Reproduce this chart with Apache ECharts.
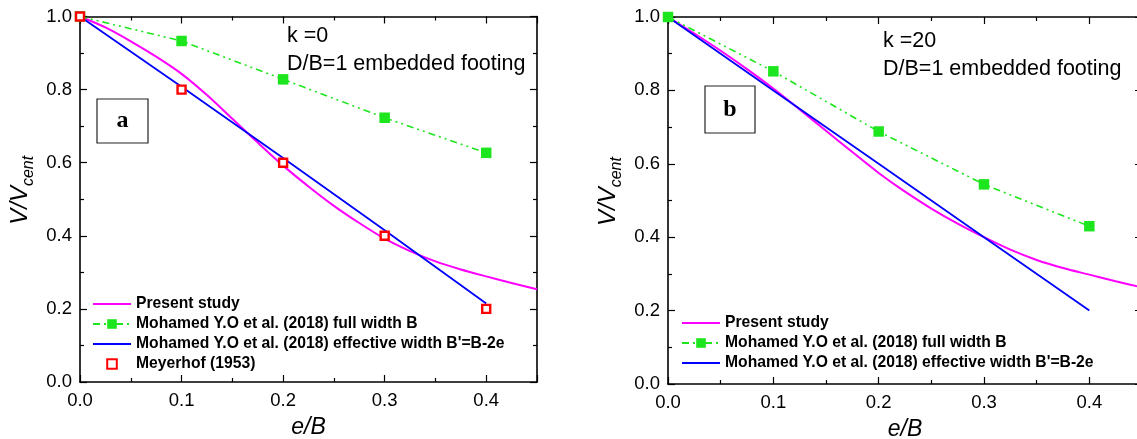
<!DOCTYPE html>
<html>
<head>
<meta charset="utf-8">
<script src="https://cdn.jsdelivr.net/npm/echarts@6/dist/echarts.min.js"></script>
<style>
html,body{margin:0;padding:0;background:#fff;}
#chart{width:1137px;height:439px;}
</style>
</head>
<body>
<div id="chart"></div>
<script>
// ---- data ----
const eB = [0, 0.1, 0.2, 0.3, 0.4];
const curveX = [0, 0.025, 0.05, 0.075, 0.1, 0.125, 0.15, 0.175, 0.2, 0.225, 0.25, 0.275, 0.3, 0.325, 0.35, 0.375, 0.4, 0.425, 0.45];
const presentA = [1, 0.97, 0.932, 0.89, 0.843, 0.785, 0.72, 0.655, 0.592, 0.535, 0.482, 0.435, 0.392, 0.358, 0.33, 0.308, 0.289, 0.271, 0.254];
const presentB = [1, 0.955, 0.908, 0.858, 0.805, 0.748, 0.69, 0.632, 0.575, 0.524, 0.478, 0.437, 0.4, 0.366, 0.338, 0.316, 0.298, 0.28, 0.263];
const fullWidthA = [1, 0.933, 0.828, 0.723, 0.627];
const fullWidthB = [1, 0.852, 0.688, 0.544, 0.43];
const effWidthA = [1, 0.808, 0.613, 0.415, 0.215];
const effWidthB = [1, 0.8, 0.6, 0.4, 0.2];
const meyerhofA = [1, 0.8, 0.6, 0.4, 0.2];
const xTicks = ['0.0', '0.1', '0.2', '0.3', '0.4'];
const yTicks = ['0.0', '0.2', '0.4', '0.6', '0.8', '1.0'];

const N1 = 'Present study';
const N2 = 'Mohamed Y.O et al. (2018) full width B';
const N3 = "Mohamed Y.O et al. (2018) effective width B'=B-2e";
const N4 = 'Meyerhof (1953)';

const FONT = 'Liberation Sans, Arial, sans-serif';
const pairs = (xs, ys) => xs.map((x, i) => [x, ys[i]]);

function xAx(grid, pos) {
  const main = pos === 'bottom';
  return {
    gridIndex: grid, type: 'value', position: pos, min: 0, max: 0.45, interval: 0.1,
    axisLine: {onZero: false, lineStyle: {color: '#000', width: 1.6}},
    axisTick: {inside: true, length: 7, lineStyle: {color: '#000', width: 1.2}},
    minorTick: {show: true, splitNumber: 2, length: 4, lineStyle: {color: '#000', width: 1.2}},
    splitLine: {show: false}, minorSplitLine: {show: false},
    axisLabel: {show: main, fontSize: 18.5, fontFamily: FONT, color: '#000', margin: 9,
      formatter: v => { const i = Math.round(v * 10); return (Math.abs(v * 10 - i) < 1e-6 && i < xTicks.length) ? xTicks[i] : ''; }},
    name: main ? 'e/B' : '', nameLocation: 'middle', nameGap: 34,
    nameTextStyle: {fontSize: 23, fontStyle: 'italic', fontFamily: FONT, color: '#000'}
  };
}
function yAx(grid, pos) {
  const main = pos === 'left';
  return {
    gridIndex: grid, type: 'value', position: pos, min: 0, max: 1, interval: 0.2,
    axisLine: {onZero: false, lineStyle: {color: '#000', width: 1.6}},
    axisTick: {inside: true, length: 7, lineStyle: {color: '#000', width: 1.2}},
    minorTick: {show: true, splitNumber: 2, length: 4, lineStyle: {color: '#000', width: 1.2}},
    splitLine: {show: false}, minorSplitLine: {show: false},
    axisLabel: {show: main, fontSize: 18.5, fontFamily: FONT, color: '#000', margin: 8,
      formatter: v => yTicks[Math.round(v * 5)]},
    name: main ? '{v|V/V}{s|cent}' : '', nameLocation: 'middle', nameGap: 43, nameRotate: 90,
    nameTextStyle: {color: '#000', padding: [0, 0, 0, 18], rich: {
      v: {fontSize: 24, fontStyle: 'italic', fontFamily: FONT, color: '#000', verticalAlign: 'bottom', padding: [0, 0, 5, 0]},
      s: {fontSize: 16, fontStyle: 'italic', fontFamily: FONT, color: '#000', verticalAlign: 'bottom'}
    }}
  };
}

const magenta = '#ff00ff', green = '#1ee61e', blue = '#0000ff', red = '#ff0000';

function panelSeries(xi, yi, present, full, eff, mey) {
  const s = [
    {name: N1, type: 'line', xAxisIndex: xi, yAxisIndex: yi, data: pairs(curveX, present), smooth: 0.3,
      symbol: 'none', lineStyle: {color: magenta, width: 2}, itemStyle: {color: magenta}, z: 2},
    {name: N3, type: 'line', xAxisIndex: xi, yAxisIndex: yi, data: pairs(eB, eff),
      symbol: 'none', lineStyle: {color: blue, width: 1.8}, itemStyle: {color: blue}, z: 3},
    {name: N2, type: 'line', xAxisIndex: xi, yAxisIndex: yi, data: pairs(eB, full),
      symbol: 'rect', symbolSize: 10.5, showAllSymbol: true,
      lineStyle: {color: green, width: 1.6, type: [7, 4, 2, 4, 2, 4]}, itemStyle: {color: green}, z: 4}
  ];
  if (mey) s.push({name: N4, type: 'line', xAxisIndex: xi, yAxisIndex: yi, data: pairs(eB, mey),
      symbol: 'rect', symbolSize: 8, lineStyle: {opacity: 0, width: 0},
      itemStyle: {color: '#fff', borderColor: red, borderWidth: 2.4}, z: 5});
  return s;
}

const legendText = {fontSize: 15.7, fontWeight: 'bold', fontFamily: FONT, color: '#000'};
const noSym = name => ({name: name, itemStyle: {opacity: 0}});

const option = {
  backgroundColor: '#fff',
  animation: false,
  grid: [
    {left: 80, width: 457, top: 16.5, height: 365.5, outerBoundsMode: 'none', containLabel: false},
    {left: 668, width: 474, top: 17, height: 367, outerBoundsMode: 'none', containLabel: false}
  ],
  xAxis: [xAx(0, 'bottom'), xAx(0, 'top'), xAx(1, 'bottom'), xAx(1, 'top')],
  yAxis: [yAx(0, 'left'), yAx(0, 'right'), yAx(1, 'left'), yAx(1, 'right')],
  legend: [
    {orient: 'vertical', left: 92, top: 296, padding: 0, itemWidth: 38, itemHeight: 12, itemGap: 4,
      textStyle: legendText, selectedMode: false, data: [noSym(N1), N2, noSym(N3), N4]},
    {orient: 'vertical', left: 681, top: 315, padding: 0, itemWidth: 38, itemHeight: 12, itemGap: 4,
      textStyle: legendText, selectedMode: false, data: [noSym(N1), N2, noSym(N3)]}
  ],
  graphic: [
    {type: 'text', left: 287, top: 25, style: {text: 'k =0', font: '21.5px ' + FONT, fill: '#000'}},
    {type: 'text', left: 287, top: 53, style: {text: 'D/B=1 embedded footing', font: '21.5px ' + FONT, fill: '#000'}},
    {type: 'text', left: 883, top: 30, style: {text: 'k =20', font: '21.5px ' + FONT, fill: '#000'}},
    {type: 'text', left: 883, top: 58, style: {text: 'D/B=1 embedded footing', font: '21.5px ' + FONT, fill: '#000'}},
    {type: 'rect', shape: {x: 97, y: 99, width: 51, height: 44}, style: {fill: '#fff', stroke: '#222', lineWidth: 1.2}},
    {type: 'text', x: 122.5, y: 121, style: {text: 'a', font: 'bold 24px Liberation Serif, Times New Roman, serif', fill: '#000', align: 'center', verticalAlign: 'middle'}},
    {type: 'rect', shape: {x: 705, y: 86, width: 50, height: 47}, style: {fill: '#fff', stroke: '#222', lineWidth: 1.2}},
    {type: 'text', x: 730, y: 110, style: {text: 'b', font: 'bold 24px Liberation Serif, Times New Roman, serif', fill: '#000', align: 'center', verticalAlign: 'middle'}}
  ],
  series: [].concat(
    panelSeries(0, 0, presentA, fullWidthA, effWidthA, meyerhofA),
    panelSeries(2, 2, presentB, fullWidthB, effWidthB, null)
  )
};

const chart = echarts.init(document.getElementById('chart'), null, {renderer: 'canvas'});
chart.setOption(option);
</script>
</body>
</html>
